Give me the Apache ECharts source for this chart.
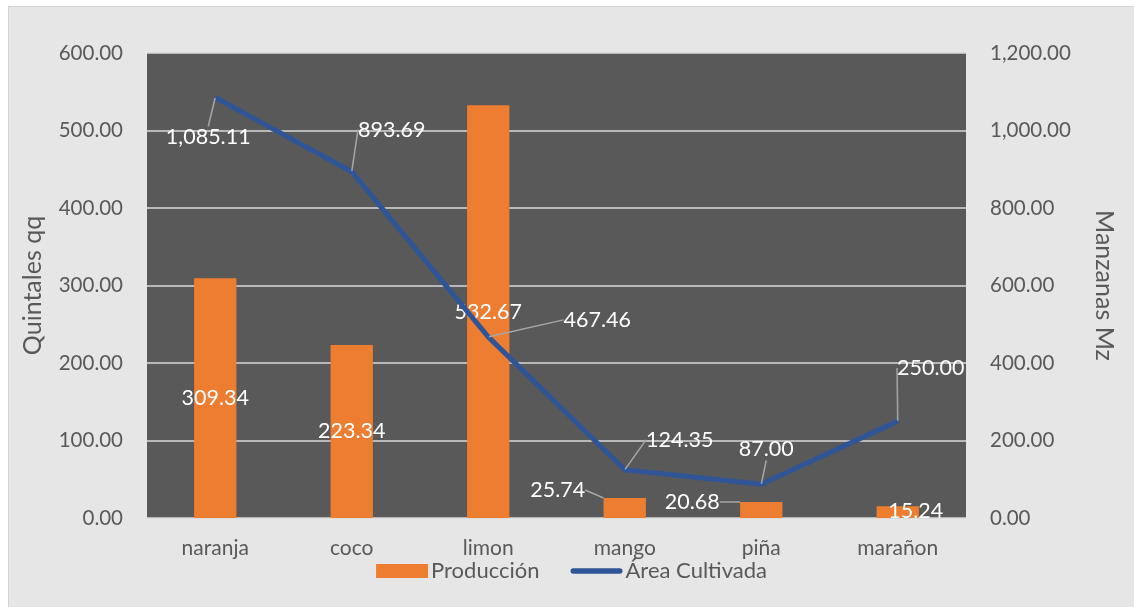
<!DOCTYPE html>
<html>
<head>
<meta charset="utf-8">
<script src="https://cdn.jsdelivr.net/npm/echarts@6/dist/echarts.min.js"></script>
<style>
  html, body { margin: 0; padding: 0; background: #ffffff; width: 1134px; height: 607px; overflow: hidden; }
  #chart { position: absolute; left: 8px; top: 6px; width: 1125px; height: 600px;
           border-left: 1px solid #d4d4d4; border-top: 1px solid #d4d4d4; background: #e6e6e6; }
</style>
</head>
<body>
<div id="chart"></div>
<script>
const categories = ['naranja', 'coco', 'limon', 'mango', 'piña', 'marañon'];
const produccion = [309.34, 223.34, 532.67, 25.74, 20.68, 15.24];
const areaCultivada = [1085.11, 893.69, 467.46, 124.35, 87.00, 250.00];
const leftTicks = { min: 0, max: 600, interval: 100 };
const rightTicks = { min: 0, max: 1200, interval: 200 };

// label nudges (styling only)
const barLabelShift = [[0, 0], [0, 0], [0, 0], [-67, -18], [-69, -8], [18, -1]];
const barLeader = [false, false, false, true, true, false];
const lineLabelShift = [[-7, 40], [40, -42], [109, -17], [55, -30], [5, -35], [33, -53]];

const fmt = v => Number(v).toLocaleString('en-US', { minimumFractionDigits: 2, maximumFractionDigits: 2 });
const FONT = 'Lato';
const TXT = '#595959';
const leaderStyle = { color: '#a6a6a6', width: 1.5 };

const chart = echarts.init(document.getElementById('chart'));
chart.setOption({
  animation: false,
  textStyle: { fontFamily: FONT },
  grid: { left: 138, right: 168, top: 46, bottom: 89, show: true, backgroundColor: '#595959', borderWidth: 0 },
  legend: {
    bottom: 20, left: 'center',
    itemWidth: 52, itemHeight: 14, itemGap: 31,
    textStyle: { color: TXT, fontSize: 22, fontFamily: FONT, padding: [0, 0, 0, -2] },
    data: [
      { name: 'Producción', icon: 'rect' },
      { name: 'Área Cultivada', icon: 'path://M3,0 L53,0 A3,3 0 0 1 53,6 L3,6 A3,3 0 0 1 3,0 Z' }
    ]
  },
  xAxis: {
    type: 'category', data: categories,
    axisLine: { show: false }, axisTick: { show: false },
    axisLabel: { color: TXT, fontSize: 21, margin: 20 }
  },
  yAxis: [
    {
      type: 'value', min: leftTicks.min, max: leftTicks.max, interval: leftTicks.interval,
      name: 'Quintales qq', nameLocation: 'middle', nameGap: 102, nameRotate: 90,
      nameTextStyle: { color: TXT, fontSize: 25 },
      axisLine: { show: false }, axisTick: { show: false },
      axisLabel: { color: TXT, fontSize: 20.5, margin: 24, formatter: fmt },
      splitLine: { lineStyle: { color: '#d9d9d9', width: 1.5 } }
    },
    {
      type: 'value', min: rightTicks.min, max: rightTicks.max, interval: rightTicks.interval,
      name: 'Manzanas Mz', nameLocation: 'middle', nameGap: 126, nameRotate: -90,
      nameTextStyle: { color: TXT, fontSize: 25 },
      axisLine: { show: false }, axisTick: { show: false },
      axisLabel: { color: TXT, fontSize: 20.5, margin: 24, formatter: fmt },
      splitLine: { show: false }
    }
  ],
  series: [
    {
      name: 'Producción', type: 'bar', yAxisIndex: 0,
      data: produccion.map((v, i) => ({ value: v, labelLine: { show: barLeader[i], lineStyle: leaderStyle } })),
      barWidth: '31%',
      itemStyle: { color: '#ED7D31' },
      label: { show: true, position: 'inside', color: '#ffffff', fontSize: 21.5, formatter: p => fmt(p.value) },
      labelLine: { show: true, lineStyle: leaderStyle },
      labelLayout: p => ({ dx: barLabelShift[p.dataIndex][0], dy: barLabelShift[p.dataIndex][1] })
    },
    {
      name: 'Área Cultivada', type: 'line', yAxisIndex: 1, data: areaCultivada,
      symbol: 'circle', symbolSize: 1, showSymbol: true,
      lineStyle: { color: '#2F5597', width: 5 },
      itemStyle: { color: '#2F5597' },
      label: { show: true, position: 'inside', color: '#ffffff', fontSize: 21.5, formatter: p => fmt(p.value) },
      labelLine: { show: true, lineStyle: leaderStyle },
      labelLayout: p => ({ dx: lineLabelShift[p.dataIndex][0], dy: lineLabelShift[p.dataIndex][1] }),
      z: 5
    }
  ]
});
</script>
</body>
</html>
